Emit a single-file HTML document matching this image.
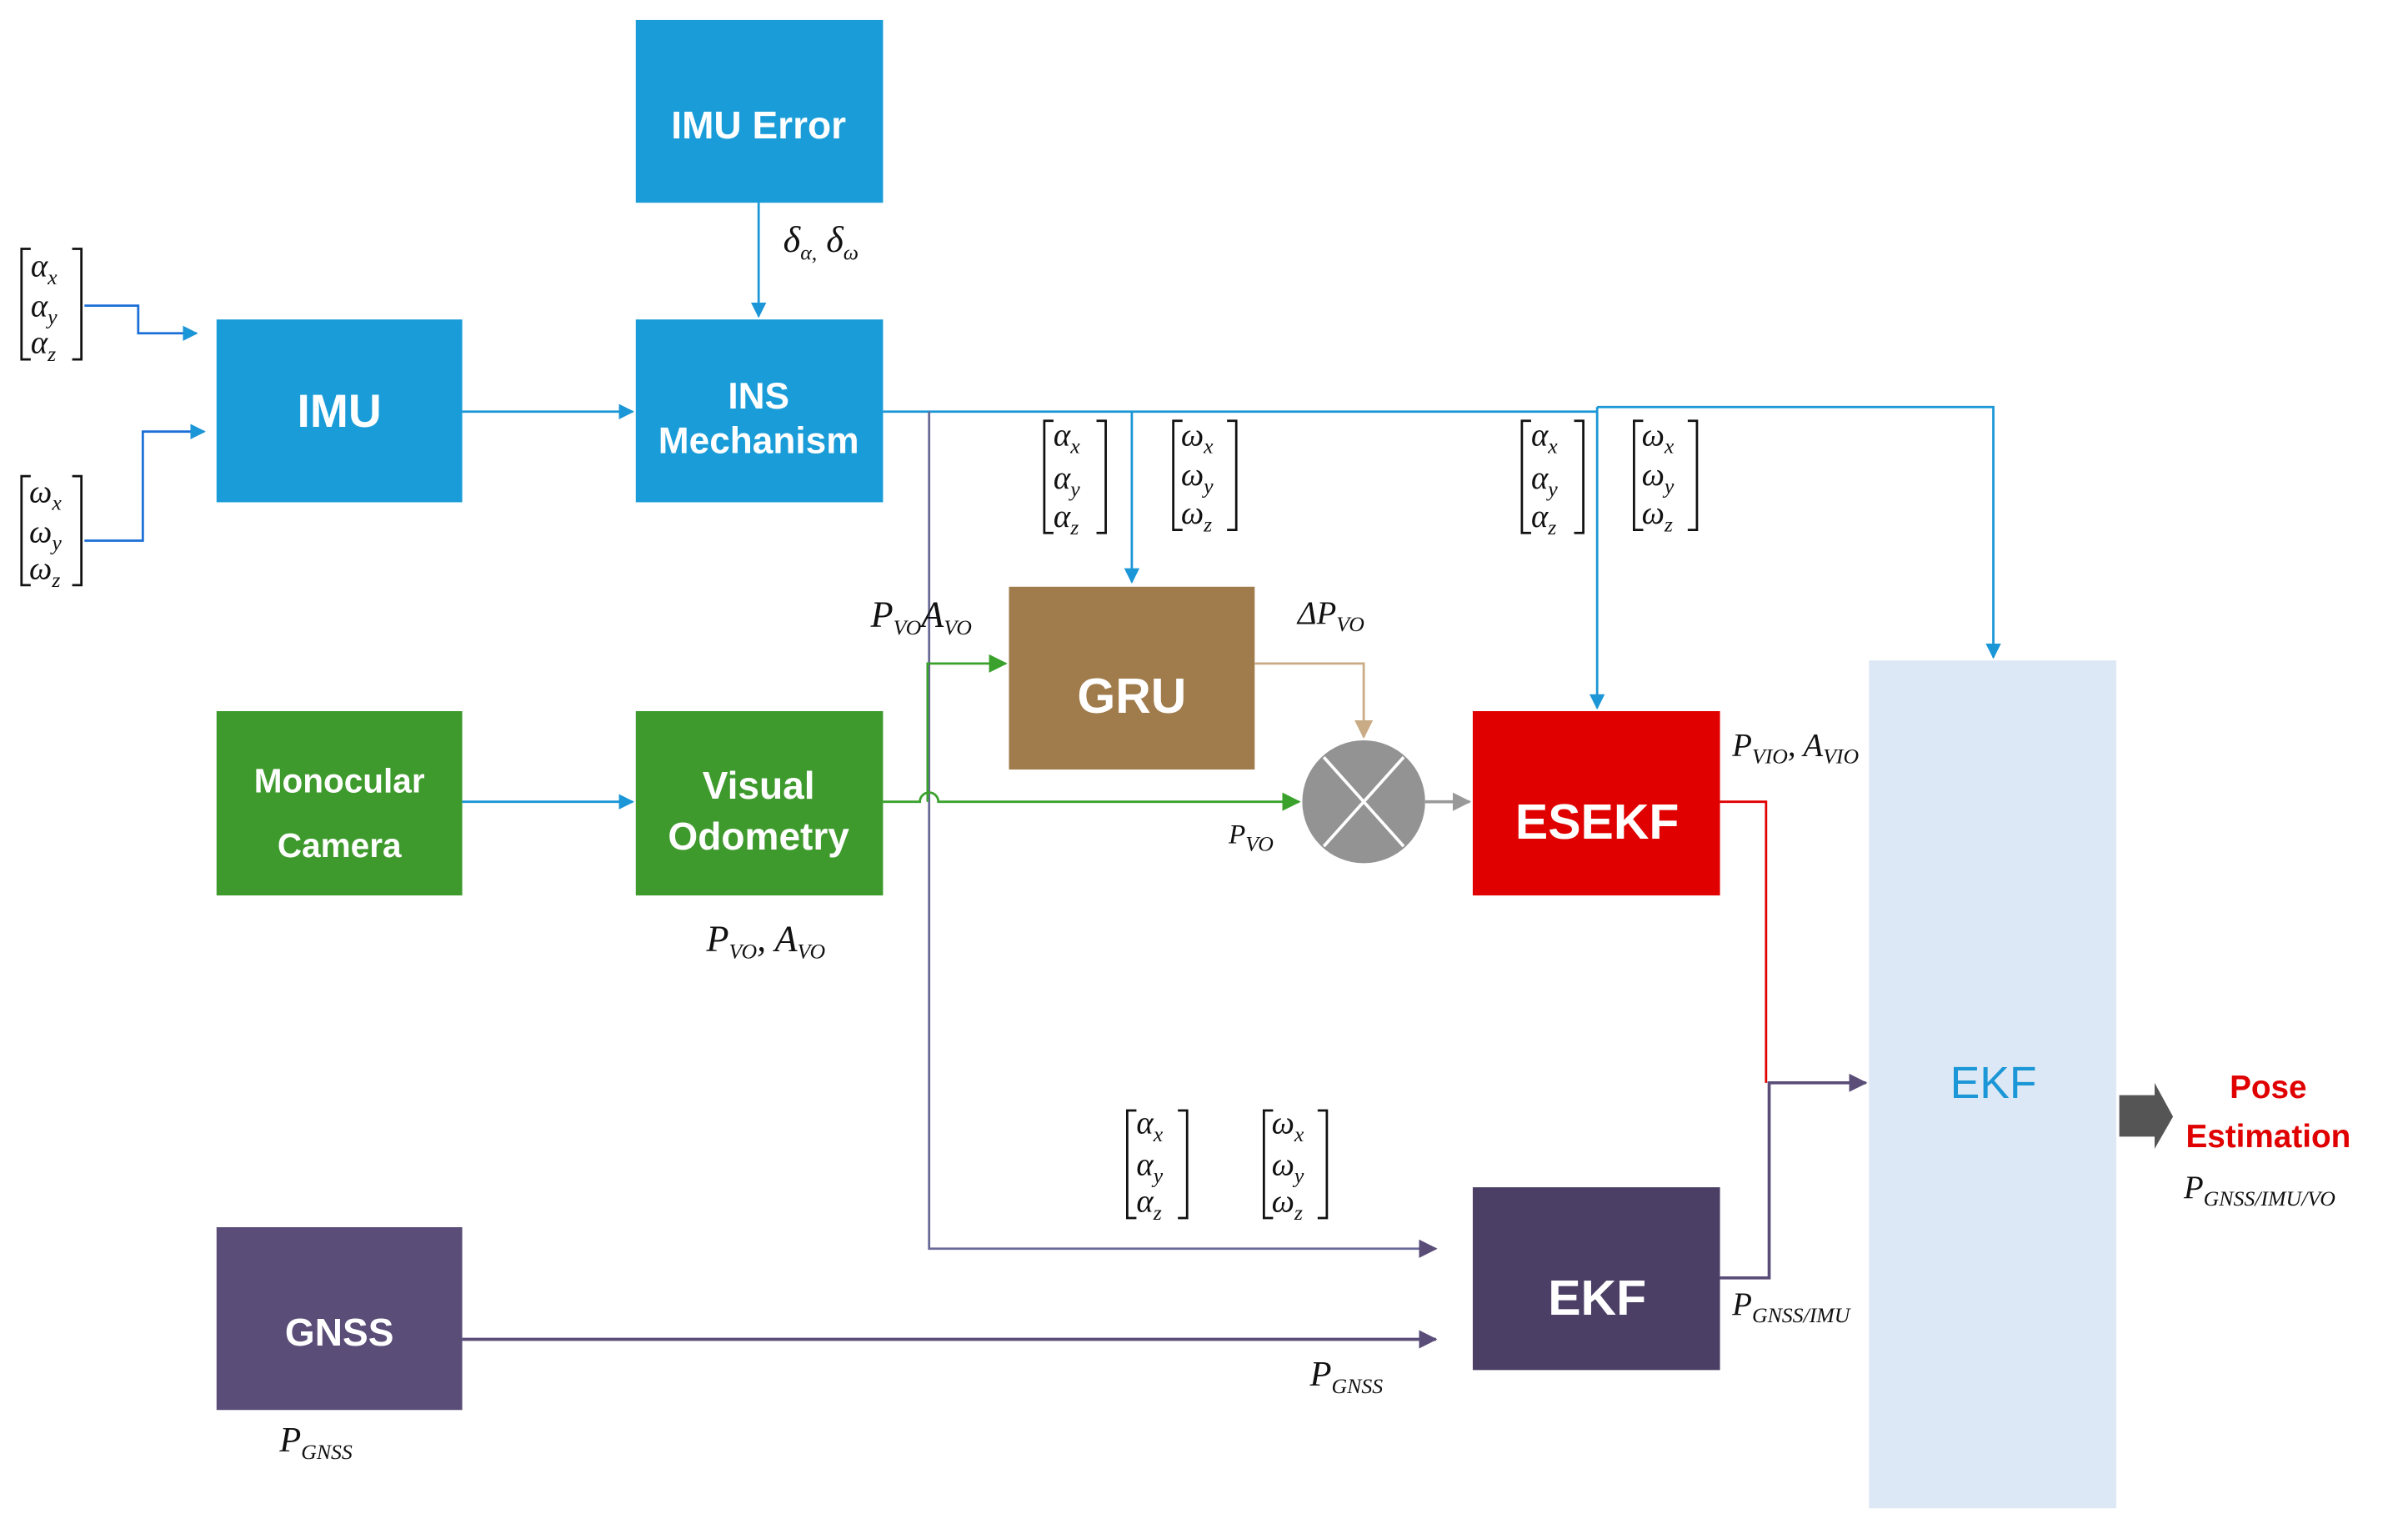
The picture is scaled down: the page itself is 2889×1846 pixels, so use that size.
<!DOCTYPE html>
<html><head><meta charset="utf-8"><style>
html,body{margin:0;padding:0;background:#fff;}
svg{display:block;}
.bx{font-family:"Liberation Sans",sans-serif;font-weight:bold;fill:#fff;text-anchor:middle;}
.m{font-family:"Liberation Serif",serif;font-style:italic;font-size:21px;fill:#111;}
.s{font-size:14px;}
</style></head><body>
<svg width="2889" height="1846" viewBox="0 0 1568 1002" preserveAspectRatio="none" xmlns="http://www.w3.org/2000/svg">
<defs>
<marker id="ab" markerWidth="10" markerHeight="10" refX="9" refY="5" orient="auto" markerUnits="userSpaceOnUse"><path d="M0,0 L10,5 L0,10z" fill="#1b96d6"/></marker>
<marker id="ag" markerWidth="12" markerHeight="12" refX="11" refY="6" orient="auto" markerUnits="userSpaceOnUse"><path d="M0,0 L12,6 L0,12z" fill="#3aa12d"/></marker>
<marker id="at" markerWidth="12" markerHeight="12" refX="11" refY="6" orient="auto" markerUnits="userSpaceOnUse"><path d="M0,0 L12,6 L0,12z" fill="#c9ab86"/></marker>
<marker id="ay" markerWidth="12" markerHeight="12" refX="11" refY="6" orient="auto" markerUnits="userSpaceOnUse"><path d="M0,0 L12,6 L0,12z" fill="#999"/></marker>
<marker id="ap" markerWidth="12" markerHeight="12" refX="11" refY="6" orient="auto" markerUnits="userSpaceOnUse"><path d="M0,0 L12,6 L0,12z" fill="#5a4d78"/></marker>
</defs>

<rect x="414" y="13" width="161" height="119" fill="#199cd8"/>
<text class="bx" x="494" y="90" font-size="25">IMU Error</text>
<rect x="141" y="208" width="160" height="119" fill="#199cd8"/>
<text class="bx" x="221" y="278" font-size="30">IMU</text>
<rect x="414" y="208" width="161" height="119" fill="#199cd8"/>
<text class="bx" x="494" y="266" font-size="24">INS</text>
<text class="bx" x="494" y="295" font-size="24">Mechanism</text>
<rect x="141" y="463" width="160" height="120" fill="#3f9a2e"/>
<text class="bx" x="221" y="516" font-size="22">Monocular</text>
<text class="bx" x="221" y="558" font-size="22">Camera</text>
<rect x="414" y="463" width="161" height="120" fill="#3f9a2e"/>
<text class="bx" x="494" y="520" font-size="25">Visual</text>
<text class="bx" x="494" y="553" font-size="25">Odometry</text>
<rect x="657" y="382" width="160" height="119" fill="#a07b4b"/>
<text class="bx" x="737" y="464" font-size="32">GRU</text>
<rect x="959" y="463" width="161" height="120" fill="#e00000"/>
<text class="bx" x="1040" y="546" font-size="32">ESEKF</text>
<rect x="959" y="773" width="161" height="119" fill="#4b3f66"/>
<text class="bx" x="1040" y="856" font-size="32">EKF</text>
<rect x="141" y="799" width="160" height="119" fill="#5a4d78"/>
<text class="bx" x="221" y="876" font-size="25">GNSS</text>
<rect x="1217" y="430" width="161" height="552" fill="#dce8f5"/>
<text x="1298" y="715" font-family="Liberation Sans,sans-serif" font-size="29" fill="#1b96d6" text-anchor="middle">EKF</text>

<ellipse cx="888" cy="522" rx="40" ry="40" fill="#939393"/>
<line x1="862" y1="493" x2="914" y2="551" stroke="#fff" stroke-width="2"/>
<line x1="914" y1="493" x2="862" y2="551" stroke="#fff" stroke-width="2"/>

<g fill="none" stroke-width="1.5">
<path d="M494,132 V206" stroke="#1b96d6" marker-end="url(#ab)"/>
<path d="M55,199 H90 V217 H128" stroke="#1b6fd6" marker-end="url(#ab)"/>
<path d="M55,352 H93 V281 H133" stroke="#1b6fd6" marker-end="url(#ab)"/>
<path d="M301,268 H412" stroke="#1b96d6" marker-end="url(#ab)"/>
<path d="M575,268 H1040" stroke="#1b96d6"/>
<path d="M737,268 V379" stroke="#1b96d6" marker-end="url(#ab)"/>
<path d="M1040,265 V461" stroke="#1b96d6" marker-end="url(#ab)"/>
<path d="M1040,265 H1298 V428" stroke="#1b96d6" marker-end="url(#ab)"/>
<path d="M301,522 H412" stroke="#1b96d6" marker-end="url(#ab)"/>
<path d="M605,268 V813 H935" stroke="#6a6a98" marker-end="url(#ap)"/>
<path d="M575,522 H599 A6,6 0 0 1 611,522 H846" stroke="#3aa12d" marker-end="url(#ag)"/>
<path d="M604,522 V432 H655" stroke="#3aa12d" marker-end="url(#ag)"/>
<path d="M817,432 H888 V480" stroke="#c9ab86" marker-end="url(#at)"/>
<path d="M928,522 H957" stroke="#999" stroke-width="2" marker-end="url(#ay)"/>
<path d="M1120,522 H1150 V705" stroke="#e00000"/>
<path d="M1120,832 H1152 V705 H1215" stroke="#5a4d78" stroke-width="2" marker-end="url(#ap)"/>
<path d="M301,872 H935" stroke="#5a4d78" stroke-width="2" marker-end="url(#ap)"/>
</g>
<path d="M1380,713 H1403 V705 L1415,727 L1403,748 V740 H1380z" fill="#555"/>
<text x="1477" y="715" font-family="Liberation Sans,sans-serif" font-weight="bold" font-size="21" fill="#e00000" text-anchor="middle">Pose</text>
<text x="1477" y="747" font-family="Liberation Sans,sans-serif" font-weight="bold" font-size="21" fill="#e00000" text-anchor="middle">Estimation</text>

<g fill="none" stroke="#111" stroke-width="1.5">
<path d="M20,162 H14 V234 H20 M47,162 H53 V234 H47"/>
<path d="M20,310 H14 V381 H20 M47,310 H53 V381 H47"/>
<path d="M686,274 H680 V347 H686 M714,274 H720 V347 H714"/>
<path d="M770,274 H764 V345 H770 M799,274 H805 V345 H799"/>
<path d="M997,274 H991 V347 H997 M1025,274 H1031 V347 H1025"/>
<path d="M1070,274 H1064 V345 H1070 M1099,274 H1105 V345 H1099"/>
<path d="M740,723 H734 V793 H740 M767,723 H773 V793 H767"/>
<path d="M829,723 H823 V793 H829 M858,723 H864 V793 H858"/>
</g>
<g class="m">
<text x="20" y="180">α<tspan class="s" dy="5">x</tspan></text>
<text x="20" y="206">α<tspan class="s" dy="5">y</tspan></text>
<text x="20" y="230">α<tspan class="s" dy="5">z</tspan></text>
<text x="19" y="327">ω<tspan class="s" dy="5">x</tspan></text>
<text x="19" y="353">ω<tspan class="s" dy="5">y</tspan></text>
<text x="19" y="377">ω<tspan class="s" dy="5">z</tspan></text>
<text x="686" y="290">α<tspan class="s" dy="5">x</tspan></text>
<text x="686" y="318">α<tspan class="s" dy="5">y</tspan></text>
<text x="686" y="343">α<tspan class="s" dy="5">z</tspan></text>
<text x="769" y="290">ω<tspan class="s" dy="5">x</tspan></text>
<text x="769" y="316">ω<tspan class="s" dy="5">y</tspan></text>
<text x="769" y="341">ω<tspan class="s" dy="5">z</tspan></text>
<text x="997" y="290">α<tspan class="s" dy="5">x</tspan></text>
<text x="997" y="318">α<tspan class="s" dy="5">y</tspan></text>
<text x="997" y="343">α<tspan class="s" dy="5">z</tspan></text>
<text x="1069" y="290">ω<tspan class="s" dy="5">x</tspan></text>
<text x="1069" y="316">ω<tspan class="s" dy="5">y</tspan></text>
<text x="1069" y="341">ω<tspan class="s" dy="5">z</tspan></text>
<text x="740" y="738">α<tspan class="s" dy="5">x</tspan></text>
<text x="740" y="765">α<tspan class="s" dy="5">y</tspan></text>
<text x="740" y="789">α<tspan class="s" dy="5">z</tspan></text>
<text x="828" y="738">ω<tspan class="s" dy="5">x</tspan></text>
<text x="828" y="765">ω<tspan class="s" dy="5">y</tspan></text>
<text x="828" y="789">ω<tspan class="s" dy="5">z</tspan></text>
<text x="510" y="164" font-size="24">δ<tspan class="s" dy="5">α,</tspan><tspan dy="-5"> δ</tspan><tspan class="s" dy="5">ω</tspan></text>
<text x="567" y="408" font-size="24">P<tspan class="s" dy="5">VO</tspan><tspan dy="-5">A</tspan><tspan class="s" dy="5">VO</tspan></text>
<text x="845" y="406">ΔP<tspan class="s" dy="5">VO</tspan></text>
<text x="800" y="549" font-size="18">P<tspan class="s" dy="5" font-size="12">VO</tspan></text>
<text x="460" y="619" font-size="24">P<tspan class="s" dy="5">VO</tspan><tspan dy="-5">, A</tspan><tspan class="s" dy="5">VO</tspan></text>
<text x="1128" y="492">P<tspan class="s" dy="5">VIO</tspan><tspan dy="-5">, A</tspan><tspan class="s" dy="5">VIO</tspan></text>
<text x="1128" y="856">P<tspan class="s" dy="5">GNSS/IMU</tspan></text>
<text x="853" y="902" font-size="23">P<tspan class="s" dy="5">GNSS</tspan></text>
<text x="182" y="945" font-size="23">P<tspan class="s" dy="5">GNSS</tspan></text>
<text x="1422" y="780">P<tspan class="s" dy="5">GNSS/IMU/VO</tspan></text>
</g>
</svg>
</body></html>
